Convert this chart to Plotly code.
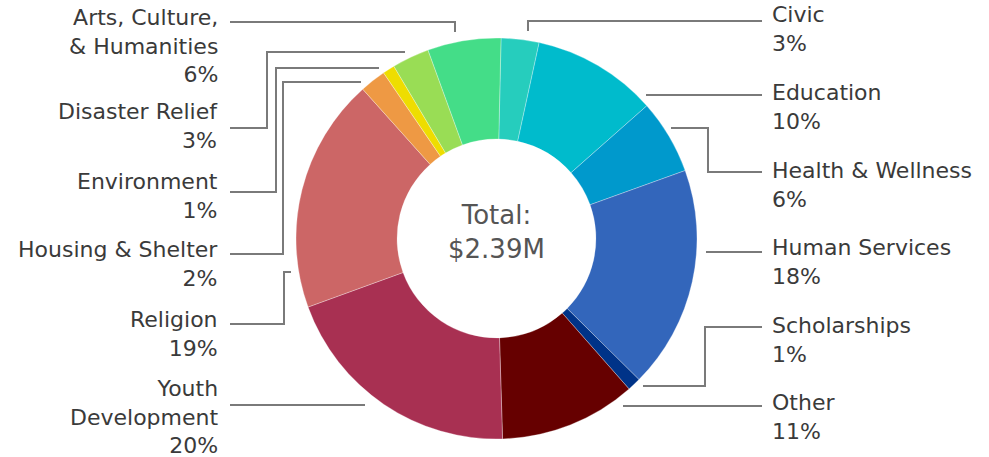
import plotly.graph_objects as go

# ---------------- data ----------------
categories = [
    "Civic", "Education", "Health & Wellness", "Human Services", "Scholarships",
    "Other", "Youth Development", "Religion", "Housing & Shelter", "Environment",
    "Disaster Relief", "Arts, Culture, & Humanities",
]
shares = [3.05, 10.06, 6.0, 17.9, 1.08, 11.0, 19.9, 18.9, 2.1, 0.97, 3.0, 5.9]
total_label = "$2.39M"
display_names = {
    "Arts, Culture, & Humanities": "Arts, Culture,<br>& Humanities",
    "Youth Development": "Youth<br>Development",
}

# ---------------- style / layout ----------------
colors = [
    "#26CDBD", "#00BBCC", "#0099CC", "#3366BB", "#003388", "#660000",
    "#A83052", "#CC6666", "#EE9944", "#EEDD00", "#99DD55", "#44DD88",
]
W, H = 989, 457
CX, CY, R = 496.5, 238.5, 200.5
FONT = "DejaVu Sans"
FS = 22
LH = FS * 1.3

# label anchor (side, x, first-line centre y) and leader paths, in pixels
label_layout = {
    "Civic": ("right", 770, 15, [(528, 31), (528, 21), (762, 21)]),
    "Education": ("right", 770, 93, [(646, 95), (762, 95)]),
    "Health & Wellness": ("right", 770, 171, [(671, 128), (708, 128), (708, 172), (762, 172)]),
    "Human Services": ("right", 770, 248, [(706, 252), (762, 252)]),
    "Scholarships": ("right", 770, 326, [(643, 386), (705, 386), (705, 327), (762, 327)]),
    "Other": ("right", 770, 403, [(623, 406), (762, 406)]),
    "Youth Development": ("left", 220, 388, [(365, 405), (230, 405)]),
    "Religion": ("left", 220, 320, [(291, 272), (284, 272), (284, 324), (230, 324)]),
    "Housing & Shelter": ("left", 220, 250, [(361, 82), (283, 82), (283, 254), (230, 254)]),
    "Environment": ("left", 220, 182, [(379, 68), (276, 68), (276, 192), (230, 192)]),
    "Disaster Relief": ("left", 220, 112, [(405, 52), (267, 52), (267, 128), (230, 128)]),
    "Arts, Culture, & Humanities": ("left", 220, 17, [(455, 32), (455, 22), (230, 22)]),
}


def px(x):
    return x / W


def py(y):
    return 1 - y / H


total = sum(shares)
fig = go.Figure()
fig.add_trace(go.Pie(
    labels=categories,
    values=shares,
    sort=False,
    direction="clockwise",
    rotation=1.3,
    hole=0.496,
    marker=dict(colors=colors, line=dict(color="rgba(255,255,255,0.6)", width=0.5)),
    textinfo="none",
    hoverinfo="label+percent",
    domain=dict(x=[px(CX - R), px(CX + R)], y=[py(CY + R), py(CY - R)]),
    showlegend=False,
))

annotations = []
shapes = []
for cat, val in zip(categories, shares):
    side, x, yc, path = label_layout[cat]
    name = display_names.get(cat, cat)
    pct = round(val / total * 100)
    text = f"{name}<br>{pct}%"
    n = text.count("<br>") + 1
    ymid = yc + (n - 1) * LH / 2
    annotations.append(dict(
        x=px(x), y=py(ymid), xref="paper", yref="paper",
        text=text, showarrow=False,
        xanchor="left" if side == "right" else "right",
        yanchor="middle",
        align="left" if side == "right" else "right",
        font=dict(family=FONT, size=FS, color="#3a3a3a"),
    ))
    d = "M " + " L ".join(f"{px(a):.5f},{py(b):.5f}" for a, b in path)
    shapes.append(dict(type="path", path=d, xref="paper", yref="paper",
                       line=dict(color="#7a7a7a", width=2)))

annotations.append(dict(
    x=px(CX), y=py(CY - 7), xref="paper", yref="paper",
    text=f"Total:<br>{total_label}", showarrow=False,
    xanchor="center", yanchor="middle", align="center",
    font=dict(family=FONT, size=26, color="#555555"),
))

fig.update_layout(
    width=W, height=H,
    margin=dict(l=0, r=0, t=0, b=0),
    paper_bgcolor="white", plot_bgcolor="white",
    annotations=annotations, shapes=shapes,
)
fig.write_html(
    "out.html",
    config={"displayModeBar": False},
    post_script="document.body.style.margin='0';document.body.style.overflow='hidden';",
)
